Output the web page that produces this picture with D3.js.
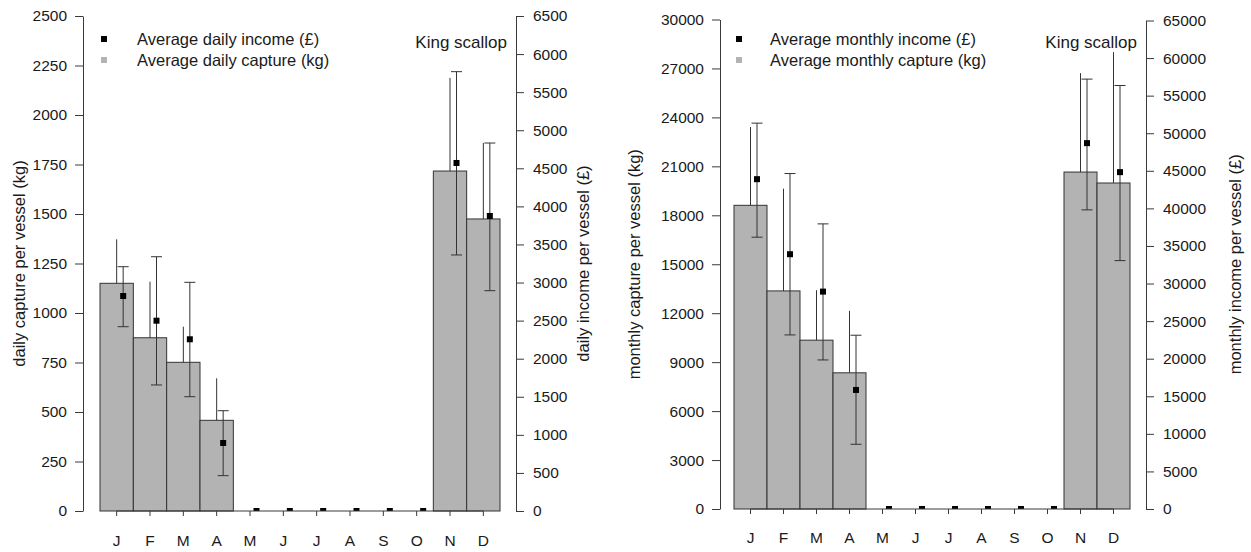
<!DOCTYPE html>
<html>
<head>
<meta charset="utf-8">
<script src="https://cdn.jsdelivr.net/npm/d3@7"></script>
<style>
  html, body { margin: 0; padding: 0; background: #fff; }
  svg { display: block; font-family: "Liberation Sans", Arial, sans-serif; }
</style>
</head>
<body>
<svg id="chart" width="1251" height="552"></svg>
<script>
// ---------- data ----------
const months = ["J", "F", "M", "A", "M", "J", "J", "A", "S", "O", "N", "D"];

// Left panel: daily
const dailyCapture      = [1150, 875, 751, 458, 0, 0, 0, 0, 0, 0, 1717, 1475];
const dailyCaptureUpper = [1372, 1158, 931, 670, 0, 0, 0, 0, 0, 0, 2187, 1859];
const dailyIncome       = [2823, 2499, 2255, 893, 0, 0, 0, 0, 0, 0, 4570, 3874];
const dailyIncomeLower  = [2420, 1655, 1501, 464, 0, 0, 0, 0, 0, 0, 3362, 2893];
const dailyIncomeUpper  = [3208, 3339, 3003, 1317, 0, 0, 0, 0, 0, 0, 5769, 4832];
const dailyCaptureTicks = [0, 250, 500, 750, 1000, 1250, 1500, 1750, 2000, 2250, 2500];
const dailyIncomeTicks  = [0, 500, 1000, 1500, 2000, 2500, 3000, 3500, 4000, 4500, 5000, 5500, 6000, 6500];

// Right panel: monthly
const monthlyCapture      = [18612, 13366, 10347, 8347, 0, 0, 0, 0, 0, 0, 20651, 19980];
const monthlyCaptureUpper = [23408, 19633, 13408, 12143, 0, 0, 0, 0, 0, 0, 26714, 28000];
const monthlyIncome       = [43888, 33903, 28927, 15841, 0, 0, 0, 0, 0, 0, 48680, 44821];
const monthlyIncomeLower  = [36166, 23162, 19834, 8612, 0, 0, 0, 0, 0, 0, 39801, 33052];
const monthlyIncomeUpper  = [51343, 44636, 37938, 23122, 0, 0, 0, 0, 0, 0, 57200, 56349];
const monthlyCaptureTicks = [0, 3000, 6000, 9000, 12000, 15000, 18000, 21000, 24000, 27000, 30000];
const monthlyIncomeTicks  = [0, 5000, 10000, 15000, 20000, 25000, 30000, 35000, 40000, 45000, 50000, 55000, 60000, 65000];

// ---------- drawing ----------
const svg = d3.select("#chart");
const AX = "#3a3a3a";
const TXT = "#1a1a1a";

function drawPanel(p) {
  const g = svg.append("g");
  const x = d3.scaleBand().domain(d3.range(months.length)).range([p.x0, p.x1]).padding(0);
  const yL = d3.scaleLinear().domain([0, p.leftMax]).range([p.base, p.top]);
  const yR = d3.scaleLinear().domain([0, p.rightMax]).range([p.base, p.topR]);
  const cx = i => x(i) + x.bandwidth() / 2;
  const off = 6.5;

  // clip (bottom of plot region)
  const clipId = "clip" + p.id;
  svg.append("clipPath").attr("id", clipId)
    .append("rect").attr("x", 0).attr("y", 0).attr("width", 1251).attr("height", p.base);

  const cap = p.capture.map((v, i) => ({v, u: p.captureUpper[i], i}));

  // bars
  g.selectAll("rect.bar").data(cap.filter(d => d.v > 0)).join("rect")
    .attr("class", "bar")
    .attr("x", d => x(d.i)).attr("width", x.bandwidth())
    .attr("y", d => yL(d.v)).attr("height", d => p.base - yL(d.v))
    .attr("fill", "#b3b3b3").attr("stroke", "#333").attr("stroke-width", 1);

  // capture upper error lines
  g.selectAll("line.cerr").data(cap.filter(d => d.u > d.v))
    .join("line").attr("class", "cerr")
    .attr("x1", d => cx(d.i)).attr("x2", d => cx(d.i))
    .attr("y1", d => yL(d.v)).attr("y2", d => yL(d.u))
    .attr("stroke", "#333").attr("stroke-width", 1);

  // income error bars
  const ie = p.income.map((v, i) => ({v, lo: p.incomeLower[i], hi: p.incomeUpper[i], i})).filter(d => d.hi > d.lo);
  const eg = g.append("g").attr("stroke", "#333").attr("stroke-width", 1);
  eg.selectAll("line.v").data(ie).join("line").attr("class", "v")
    .attr("x1", d => cx(d.i) + off).attr("x2", d => cx(d.i) + off)
    .attr("y1", d => yR(d.lo)).attr("y2", d => yR(d.hi));
  eg.selectAll("line.t").data(ie).join("line").attr("class", "t")
    .attr("x1", d => cx(d.i) + off - 5.5).attr("x2", d => cx(d.i) + off + 5.5)
    .attr("y1", d => yR(d.hi)).attr("y2", d => yR(d.hi));
  eg.selectAll("line.b").data(ie).join("line").attr("class", "b")
    .attr("x1", d => cx(d.i) + off - 5.5).attr("x2", d => cx(d.i) + off + 5.5)
    .attr("y1", d => yR(d.lo)).attr("y2", d => yR(d.lo));

  // income points
  g.append("g").attr("clip-path", `url(#${clipId})`)
    .selectAll("rect.pt").data(p.income.map((v, i) => ({v, i}))).join("rect").attr("class", "pt")
    .attr("x", d => cx(d.i) + off - 3).attr("y", d => yR(d.v) - 3)
    .attr("width", 6).attr("height", 6).attr("fill", "#000");

  // bottom axis
  const ba = g.append("g").attr("stroke", AX).attr("stroke-width", 1);
  ba.append("line").attr("x1", cx(0)).attr("x2", cx(11)).attr("y1", p.base).attr("y2", p.base);
  ba.selectAll("line.tk").data(months.map((m, i) => i)).join("line").attr("class", "tk")
    .attr("x1", d => cx(d)).attr("x2", d => cx(d))
    .attr("y1", p.base).attr("y2", p.base + 5);
  g.selectAll("text.mon").data(months.map((m, i) => ({m, i}))).join("text").attr("class", "mon")
    .attr("x", d => cx(d.i)).attr("y", p.monthY)
    .attr("text-anchor", "middle").attr("dominant-baseline", "central")
    .attr("font-size", 15.5).attr("fill", TXT).text(d => d.m);

  // left axis
  const la = g.append("g").attr("transform", `translate(${p.axL},0)`)
    .call(d3.axisLeft(yL).tickValues(p.leftTicks).tickFormat(d3.format("d"))
      .tickSize(8).tickSizeOuter(0).tickPadding(8));
  // right axis
  const ra = g.append("g").attr("transform", `translate(${p.axR},0)`)
    .call(d3.axisRight(yR).tickValues(p.rightTicks).tickFormat(d3.format("d"))
      .tickSize(8).tickSizeOuter(0).tickPadding(9));
  [la, ra].forEach(a => {
    a.select(".domain").attr("stroke", AX);
    a.selectAll(".tick line").attr("stroke", AX);
    a.selectAll(".tick text").attr("font-size", 15.5).attr("fill", TXT)
      .attr("font-family", '"Liberation Sans", Arial, sans-serif');
  });

  // axis titles
  const midY = (p.base + p.top) / 2;
  g.append("text").attr("transform", `translate(${p.titleLX},${midY}) rotate(-90)`)
    .attr("text-anchor", "middle").attr("dominant-baseline", "central")
    .attr("font-size", 16.5).attr("fill", TXT).text(p.titleL);
  g.append("text").attr("transform", `translate(${p.titleRX},${midY}) rotate(-90)`)
    .attr("text-anchor", "middle").attr("dominant-baseline", "central")
    .attr("font-size", 16.5).attr("fill", TXT).text(p.titleR);

  // legend
  g.append("rect").attr("x", p.legX - 3).attr("y", 39 - 3).attr("width", 6).attr("height", 6).attr("fill", "#000");
  g.append("rect").attr("x", p.legX - 3).attr("y", 60 - 3).attr("width", 6).attr("height", 6).attr("fill", "#b3b3b3");
  g.append("text").attr("x", p.legTX).attr("y", 39).attr("dominant-baseline", "central")
    .attr("font-size", 16.5).attr("fill", TXT).text(p.leg1);
  g.append("text").attr("x", p.legTX).attr("y", 60).attr("dominant-baseline", "central")
    .attr("font-size", 16.5).attr("fill", TXT).text(p.leg2);

  // species label
  g.append("text").attr("x", p.kingX).attr("y", 42).attr("text-anchor", "end")
    .attr("dominant-baseline", "central").attr("font-size", 17).attr("fill", TXT).text("King scallop");
}

drawPanel({
  id: "L", x0: 100, x1: 500, base: 511, top: 16, topR: 16,
  leftMax: 2500, rightMax: 6500, leftTicks: dailyCaptureTicks, rightTicks: dailyIncomeTicks,
  capture: dailyCapture, captureUpper: dailyCaptureUpper,
  income: dailyIncome, incomeLower: dailyIncomeLower, incomeUpper: dailyIncomeUpper,
  axL: 83, axR: 516, monthY: 540,
  titleLX: 19, titleRX: 583,
  titleL: "daily capture per vessel (kg)", titleR: "daily income per vessel (£)",
  legX: 104, legTX: 137,
  leg1: "Average daily income (£)", leg2: "Average daily capture (kg)",
  kingX: 507
});

drawPanel({
  id: "R", x0: 734, x1: 1130, base: 509, top: 19.5, topR: 20.5,
  leftMax: 30000, rightMax: 65000, leftTicks: monthlyCaptureTicks, rightTicks: monthlyIncomeTicks,
  capture: monthlyCapture, captureUpper: monthlyCaptureUpper,
  income: monthlyIncome, incomeLower: monthlyIncomeLower, incomeUpper: monthlyIncomeUpper,
  axL: 720, axR: 1146, monthY: 537,
  titleLX: 634, titleRX: 1235,
  titleL: "monthly capture per vessel (kg)", titleR: "monthly income per vessel (£)",
  legX: 739, legTX: 770,
  leg1: "Average monthly income (£)", leg2: "Average monthly capture (kg)",
  kingX: 1137
});
</script>
</body>
</html>
